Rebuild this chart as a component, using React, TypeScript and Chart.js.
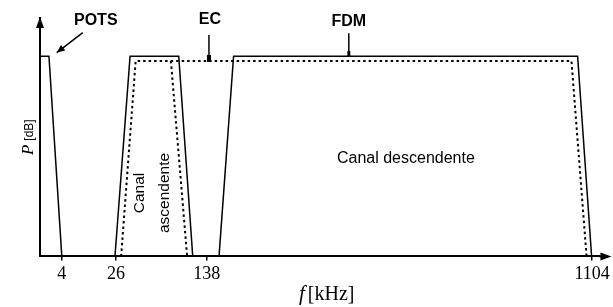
import React, { useEffect, useRef } from "react";
import { Chart, registerables } from "chart.js";

Chart.register(...registerables);

// Schematic frequency axis (position along the axis, 0–100) and tick labels in kHz
const tickPos = [3.9, 13.6, 29.8, 98.7];
const tickLabels = ["4", "26", "138", "1104"];

// Power spectral density levels (relative units, 0–100)
const potsX = [0, 1.6, 3.9];
const potsY = [84, 84, 0];
const upX = [13.4, 16.1, 24.8, 27.3];
const upY = [0, 84, 84, 0];
const downX = [32.0, 34.6, 96.1, 98.6];
const downY = [0, 84, 84, 0];
const ecX = [14.5, 17.1, 95.0, 97.7];
const ecY = [0, 82, 82, 0];
const upEcX = [23.4, 26.3];
const upEcY = [82, 0];

// Text
const labelPots = "POTS";
const labelEc = "EC";
const labelFdm = "FDM";
const labelDown = "Canal descendente";
const labelUp = ["Canal", "ascendente"];
const yTitle = ["P", "[dB]"];
const xTitle = ["f", "[kHz]"];

// Annotation anchors (data units)
const potsTip = [3.0, 85.5];
const ecAnchor = [30.2, 82];
const fdmAnchor = [55.2, 84];
const downCenter = [65.4, 41];
const upCenter = [20.1, 26.6];

const zip = (xs: number[], ys: number[]) => xs.map((x, i) => ({ x, y: ys[i] }));

const SANS = "'Liberation Sans', Arial, sans-serif";
const SERIF = "'Liberation Serif', 'Times New Roman', serif";

const annotPlugin = {
  id: "annot",
  afterDraw(chart: any) {
    const { ctx, chartArea, scales } = chart;
    const x = scales.x;
    const y = scales.y;
    const px = (v: number) => x.getPixelForValue(v);
    const py = (v: number) => y.getPixelForValue(v);
    ctx.save();
    ctx.fillStyle = "#000";
    ctx.strokeStyle = "#000";

    // y axis arrowhead
    const ax = px(0);
    const top = chartArea.top;
    ctx.beginPath();
    ctx.moveTo(ax, top - 1);
    ctx.lineTo(ax - 4, top + 10);
    ctx.lineTo(ax + 4, top + 10);
    ctx.closePath();
    ctx.fill();

    // x axis arrowhead
    const ay = py(0);
    const r = chartArea.right;
    ctx.lineWidth = 2;
    ctx.beginPath();
    ctx.moveTo(r, ay);
    ctx.lineTo(r + 4, ay);
    ctx.stroke();
    ctx.beginPath();
    ctx.moveTo(r + 12, ay);
    ctx.lineTo(r + 1, ay - 4);
    ctx.lineTo(r + 1, ay + 4);
    ctx.closePath();
    ctx.fill();

    // POTS label + arrow
    const tx = px(potsTip[0]);
    const ty = py(potsTip[1]);
    const sx = tx + 26;
    const sy = ty - 20;
    ctx.lineWidth = 1.5;
    ctx.beginPath();
    ctx.moveTo(sx, sy);
    ctx.lineTo(tx, ty);
    ctx.stroke();
    const dx = tx - sx;
    const dy = ty - sy;
    const len = Math.hypot(dx, dy);
    const ux = dx / len;
    const uy = dy / len;
    ctx.beginPath();
    ctx.moveTo(tx, ty);
    ctx.lineTo(tx - ux * 8 - uy * 3.5, ty - uy * 8 + ux * 3.5);
    ctx.lineTo(tx - ux * 8 + uy * 3.5, ty - uy * 8 - ux * 3.5);
    ctx.closePath();
    ctx.fill();
    ctx.font = `bold 16px ${SANS}`;
    ctx.textAlign = "center";
    ctx.textBaseline = "middle";
    ctx.fillText(labelPots, tx + 39, ty - 32);

    // EC pointer
    const ex = px(ecAnchor[0]);
    const ey = py(ecAnchor[1]);
    ctx.lineWidth = 1.5;
    ctx.beginPath();
    ctx.moveTo(ex, ey - 26);
    ctx.lineTo(ex, ey);
    ctx.stroke();
    ctx.fillRect(ex - 2, ey - 6, 4, 7);
    ctx.fillText(labelEc, ex + 1, ey - 41);

    // FDM pointer
    const fx = px(fdmAnchor[0]);
    const fy = py(fdmAnchor[1]);
    ctx.beginPath();
    ctx.moveTo(fx, fy - 23);
    ctx.lineTo(fx, fy);
    ctx.stroke();
    ctx.fillRect(fx - 1.5, fy - 5, 3, 5);
    ctx.fillText(labelFdm, fx, fy - 35);

    // Canal descendente
    ctx.font = `16px ${SANS}`;
    ctx.fillText(labelDown, px(downCenter[0]), py(downCenter[1]));

    // Canal ascendente (rotated)
    ctx.save();
    ctx.translate(px(upCenter[0]), py(upCenter[1]));
    ctx.rotate(-Math.PI / 2);
    ctx.font = `15.5px ${SANS}`;
    ctx.fillText(labelUp[0], 0, -12.5);
    ctx.fillText(labelUp[1], 0, 12.5);
    ctx.restore();

    // y title (rotated)
    ctx.save();
    ctx.translate(chartArea.left - 13, (chartArea.top + chartArea.bottom) / 2);
    ctx.rotate(-Math.PI / 2);
    ctx.textBaseline = "alphabetic";
    ctx.textAlign = "left";
    ctx.font = `italic 17px ${SERIF}`;
    const wP = ctx.measureText(yTitle[0]).width;
    ctx.font = `12px ${SANS}`;
    const wDb = ctx.measureText(yTitle[1]).width;
    const gap = 4;
    const start = -(wP + gap + wDb) / 2;
    ctx.font = `italic 17px ${SERIF}`;
    ctx.fillText(yTitle[0], start, 6);
    ctx.font = `12px ${SANS}`;
    ctx.fillText(yTitle[1], start + wP + gap, 6);
    ctx.restore();

    // x title
    ctx.textBaseline = "alphabetic";
    ctx.textAlign = "left";
    ctx.font = `italic 21px ${SERIF}`;
    const wf = ctx.measureText(xTitle[0]).width;
    ctx.font = `20px ${SERIF}`;
    const wk = ctx.measureText(xTitle[1]).width;
    const cx = (chartArea.left + chartArea.right) / 2 + 7;
    const xs = cx - (wf + 3 + wk) / 2;
    ctx.font = `italic 21px ${SERIF}`;
    ctx.fillText(xTitle[0], xs, 300);
    ctx.font = `20px ${SERIF}`;
    ctx.fillText(xTitle[1], xs + wf + 3, 300);

    ctx.restore();
  },
};

export default function App() {
  const ref = useRef<HTMLCanvasElement | null>(null);

  useEffect(() => {
    if (!ref.current) return;
    const solid = { borderColor: "#000", borderWidth: 1.5, pointRadius: 0, showLine: true, tension: 0, clip: false as any };
    const dotted = { ...solid, borderWidth: 2, borderDash: [2.5, 3] };
    const chart = new Chart(ref.current, {
      type: "scatter",
      data: {
        datasets: [
          { label: "POTS", data: zip(potsX, potsY), ...solid },
          { label: "Canal ascendente", data: zip(upX, upY), ...solid },
          { label: "Canal descendente", data: zip(downX, downY), ...solid },
          { label: "EC", data: zip(ecX, ecY), ...dotted },
          { label: "EC ascendente", data: zip(upEcX, upEcY), ...dotted },
        ],
      },
      options: {
        responsive: false,
        animation: false,
        events: [],
        layout: { padding: { left: 40, top: 18, right: 13, bottom: 19 } },
        plugins: { legend: { display: false }, tooltip: { enabled: false }, title: { display: false } },
        scales: {
          x: {
            type: "linear",
            min: 0,
            max: 100,
            afterBuildTicks: (scale: any) => {
              scale.ticks = tickPos.map((v) => ({ value: v }));
            },
            ticks: {
              autoSkip: false,
              maxRotation: 0,
              padding: 3,
              color: "#000",
              font: { family: SERIF, size: 18 },
              callback: (value: any) => tickLabels[tickPos.indexOf(Number(value))] ?? "",
            },
            grid: { display: true, drawOnChartArea: false, drawTicks: true, tickLength: 4, color: "#000", lineWidth: 1.5 },
            border: { display: true, color: "#000", width: 2 },
          },
          y: {
            type: "linear",
            min: 0,
            max: 100,
            ticks: { display: false },
            grid: { display: false, drawTicks: false, tickLength: 0 },
            border: { display: true, color: "#000", width: 2 },
          },
        },
      },
      plugins: [annotPlugin],
    });
    return () => chart.destroy();
  }, []);

  return (
    <div style={{ position: "fixed", left: 0, top: 0, width: 613, height: 307, background: "#fff" }}>
      <canvas ref={ref} width={613} height={307} style={{ display: "block" }} />
    </div>
  );
}
